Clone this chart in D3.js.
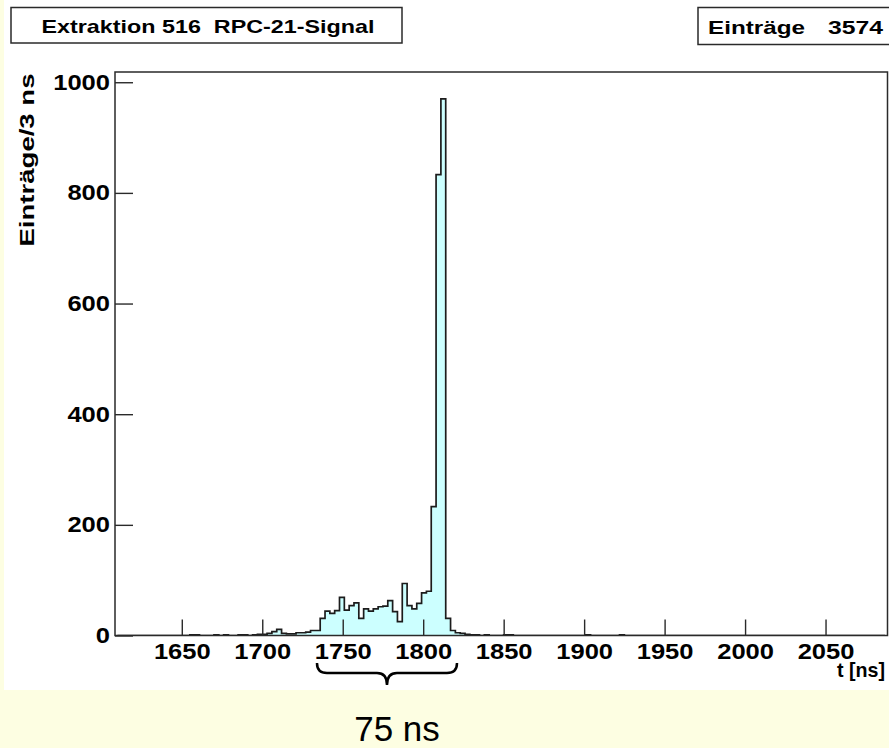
<!DOCTYPE html>
<html>
<head>
<meta charset="utf-8">
<script src="https://cdn.jsdelivr.net/npm/d3@7"></script>
<style>
  body { margin: 0; background: #ffffff; }
  svg { display: block; }
  text { font-family: "Liberation Sans", Arial, Helvetica, sans-serif; white-space: pre; }
</style>
</head>
<body>
<script>
/* Histogram data: 3 ns bins starting at 1610 ns. */
const binStart = 1610
const binWidth = 3
const counts = [
  0, 0, 0, 0, 0, 0, 0, 0, 0, 0,
  0, 0, 0, 0, 0, 1, 1, 0, 0, 0,
  1, 0, 1, 0, 0, 1, 1, 0, 1, 2,
  2, 4, 7, 11, 4, 3, 3, 5, 5, 6,
  9, 9, 31, 44, 40, 45, 69, 46, 54, 59,
  31, 48, 44, 48, 52, 53, 63, 43, 25, 94,
  54, 48, 58, 77, 80, 233, 833, 970, 31, 9,
  5, 4, 2, 1, 1, 0, 1, 0, 0, 0,
  1, 1, 0, 0, 0, 0, 0, 0, 0, 0,
  0, 0, 0, 0, 0, 0, 0, 1, 0, 0,
  0, 0, 0, 0, 1, 0, 0, 0, 0, 0,
  0, 0, 0, 0, 0, 0, 0, 0, 0, 0,
  0, 0, 0, 0, 0, 0, 0, 0, 0, 0,
  0, 0, 0, 0, 0, 0, 0, 0, 0, 0,
  0, 0, 0, 0, 0, 0, 0, 0, 0, 0,
  0, 0, 0, 0, 0, 0, 0, 0, 0
]

/* Axis ranges and tick labels. */
const xDomain = [1608.5, 2088.5]
const yDomain = [0, 1018.5]
const xMajorTicks = [1650, 1700, 1750, 1800, 1850, 1900, 1950, 2000, 2050]
const yMajorTicks = [0, 200, 400, 600, 800, 1000]

/* Texts. */
const titleText = "Extraktion 516  RPC-21-Signal"
const statsLabel = "Einträge"
const statsValue = "3574"
const xTitle = "t [ns]"
const yTitle = "Einträge/3 ns"
const braceFrom = 1734
const braceTo = 1821
const braceText = "75 ns"

/* Define svg-size. */
const width = 889
const height = 748
const frame = { left: 115, right: 887.5, top: 72, bottom: 635.5 }

const svg = d3.select("body")
  .append("svg")
  .attr("width", width)
  .attr("height", height)

/* Page background: white canvas on pale yellow. */
svg.append("rect")
  .attr("width", width).attr("height", height)
  .attr("fill", "#fdfee2")
svg.append("rect")
  .attr("x", 4).attr("width", width - 4).attr("height", 690)
  .attr("fill", "#ffffff")

/* Scales. */
const x = d3.scaleLinear().domain(xDomain).range([frame.left, frame.right])
const y = d3.scaleLinear().domain(yDomain).range([frame.bottom, frame.top])

/* Histogram outline as steps. */
const bins = counts.map((c, i) => ({ x0: binStart + i * binWidth, x1: binStart + (i + 1) * binWidth, n: c }))
const p = d3.path()
p.moveTo(x(bins[0].x0), y(0))
bins.forEach(b => {
  p.lineTo(x(b.x0), y(b.n))
  p.lineTo(x(b.x1), y(b.n))
})
p.lineTo(x(bins[bins.length - 1].x1), y(0))

const clip = svg.append("clipPath").attr("id", "plot")
clip.append("rect")
  .attr("x", frame.left).attr("y", frame.top)
  .attr("width", frame.right - frame.left).attr("height", frame.bottom - frame.top)

svg.append("path")
  .attr("clip-path", "url(#plot)")
  .attr("d", p.toString() + "Z")
  .attr("fill", "#ccffff")
  .attr("stroke", "none")
svg.append("path")
  .attr("clip-path", "url(#plot)")
  .attr("d", p.toString())
  .attr("fill", "none")
  .attr("stroke", "#1c1c1c")
  .attr("stroke-width", 1.7)

/* Axes: ticks inward, ROOT style. */
const xMinor = d3.range(1610, 2090, 10).filter(v => v % 50 !== 0)
const yMinor = d3.range(50, 1001, 100)

const gx = svg.append("g").attr("transform", `translate(0,${frame.bottom})`)
gx.call(d3.axisBottom(x).tickValues(xMinor).tickSize(-8).tickFormat(""))
gx.call(d3.axisBottom(x).tickValues(xMajorTicks).tickSize(-16).tickPadding(8).tickFormat(d3.format("d")))

const gy = svg.append("g").attr("transform", `translate(${frame.left},0)`)
gy.call(d3.axisLeft(y).tickValues(yMinor).tickSize(-10).tickFormat(""))
gy.call(d3.axisLeft(y).tickValues(yMajorTicks).tickSize(-18).tickPadding(5).tickFormat(d3.format("d")))

svg.selectAll(".domain").remove()
svg.selectAll(".tick line").attr("stroke", "#2a2a2a").attr("stroke-width", 1.4)
svg.selectAll(".tick text")
  .attr("fill", "#000")
  .attr("font-size", 22)
  .attr("font-weight", "bold")
  .attr("font-family", "Liberation Sans, Arial, sans-serif")
  .attr("textLength", d => String(d).length * 14.2)
  .attr("lengthAdjust", "spacingAndGlyphs")

/* Frame. */
svg.append("rect")
  .attr("x", frame.left).attr("y", frame.top)
  .attr("width", frame.right - frame.left).attr("height", frame.bottom - frame.top)
  .attr("fill", "none")
  .attr("stroke", "#2a2a2a")
  .attr("stroke-width", 1.5)

/* Axis titles. */
svg.append("text")
  .attr("x", 885).attr("y", 677)
  .attr("text-anchor", "end")
  .attr("font-size", 21).attr("font-weight", "bold")
  .attr("textLength", 48).attr("lengthAdjust", "spacingAndGlyphs")
  .text(xTitle)

svg.append("text")
  .attr("transform", "translate(34,73.5) rotate(-90)")
  .attr("text-anchor", "end")
  .attr("font-size", 21).attr("font-weight", "bold")
  .attr("textLength", 173).attr("lengthAdjust", "spacingAndGlyphs")
  .text(yTitle)

/* Title box. */
svg.append("rect")
  .attr("x", 11).attr("y", 7.5).attr("width", 391).attr("height", 35.5)
  .attr("fill", "#fff").attr("stroke", "#2a2a2a").attr("stroke-width", 1.5)
svg.append("text")
  .attr("x", 208).attr("y", 33)
  .attr("text-anchor", "middle")
  .attr("font-size", 18.5).attr("font-weight", "bold")
  .attr("textLength", 333).attr("lengthAdjust", "spacingAndGlyphs")
  .text(titleText)

/* Stats box. */
svg.append("rect")
  .attr("x", 698).attr("y", 7.5).attr("width", 240).attr("height", 37)
  .attr("fill", "#fff").attr("stroke", "#2a2a2a").attr("stroke-width", 1.5)
svg.append("text")
  .attr("x", 708).attr("y", 34)
  .attr("font-size", 19).attr("font-weight", "bold")
  .attr("textLength", 97).attr("lengthAdjust", "spacingAndGlyphs")
  .text(statsLabel)
svg.append("text")
  .attr("x", 883).attr("y", 34)
  .attr("text-anchor", "end")
  .attr("font-size", 19).attr("font-weight", "bold")
  .attr("textLength", 55).attr("lengthAdjust", "spacingAndGlyphs")
  .text(statsValue)

/* Curly brace under the x-axis. */
const bx0 = x(braceFrom), bx1 = x(braceTo), bxm = (bx0 + bx1) / 2
const yTop = 663, yMid = 673, yTip = 685, r = 10
const brace = d3.path()
brace.moveTo(bx0, yTop)
brace.quadraticCurveTo(bx0, yMid, bx0 + r, yMid)
brace.lineTo(bxm - r, yMid)
brace.quadraticCurveTo(bxm, yMid, bxm, yTip)
brace.quadraticCurveTo(bxm, yMid, bxm + r, yMid)
brace.lineTo(bx1 - r, yMid)
brace.quadraticCurveTo(bx1, yMid, bx1, yTop)
svg.append("path")
  .attr("d", brace.toString())
  .attr("fill", "none")
  .attr("stroke", "#000")
  .attr("stroke-width", 2.5)

svg.append("text")
  .attr("x", bxm + 10).attr("y", 741)
  .attr("text-anchor", "middle")
  .attr("font-size", 35)
  .text(braceText)
</script>
</body>
</html>
